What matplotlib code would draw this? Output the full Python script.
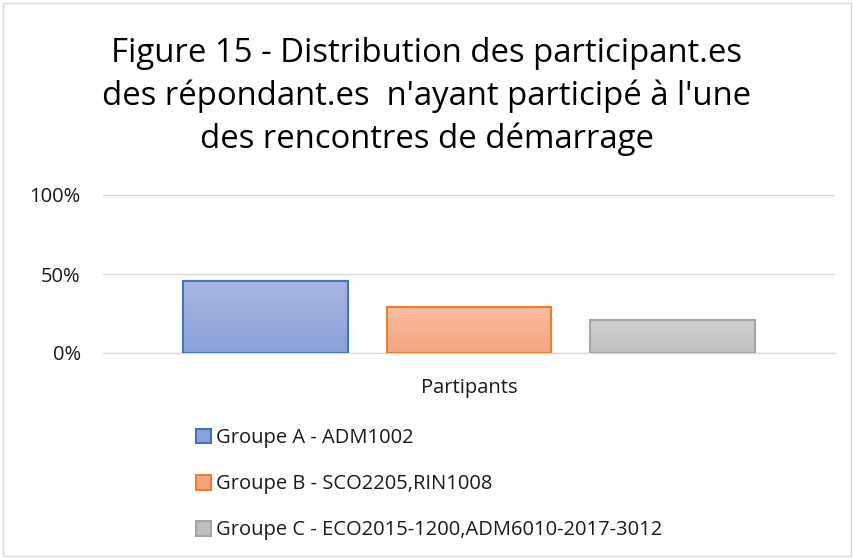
import numpy as np
import matplotlib
matplotlib.use('Agg')
import matplotlib.pyplot as plt
from matplotlib.patches import Rectangle
from matplotlib.colors import LinearSegmentedColormap

plt.rcParams['font.family'] = ['Open Sans', 'DejaVu Sans']

# data
categorie = 'Partipants'
groupes = ['Groupe A - ADM1002',
           'Groupe B - SCO2205,RIN1008',
           'Groupe C - ECO2015-1200,ADM6010-2017-3012']
valeurs = [0.458, 0.292, 0.208]
yticks = [0, 0.5, 1.0]
ytick_labels = ['0%', '50%', '100%']
titre = ("Figure 15 - Distribution des participant.es\n"
         "des répondant.es  n'ayant participé à l'une\n"
         "des rencontres de démarrage")

# couleurs (haut, bas, bord)
couleurs = [('#aab6e0', '#8aa2da', '#4472c4'),
            ('#f7bda2', '#f5a47f', '#ed7d31'),
            ('#d1d1d1', '#bfbfbf', '#a5a5a5')]

txt = '#1a1a1a'

fig = plt.figure(figsize=(8.54, 5.59), dpi=100)
ax = fig.add_axes([103/854, 1-353/559, 732/854, 158/559])

offsets = [-1, 0, 1]
w = 0.81
for off, v, (c_top, c_bot, c_edge), lab in zip(offsets, valeurs, couleurs, groupes):
    bar = ax.bar(off, v, width=w, color=c_bot, edgecolor=c_edge, linewidth=1.5,
                 label=lab, zorder=3)[0]
    cmap = LinearSegmentedColormap.from_list('g', [c_bot, c_top])
    grad = np.linspace(0, 1, 100).reshape(-1, 1)
    im = ax.imshow(grad, cmap=cmap, aspect='auto', origin='lower',
                   extent=[off - w/2, off + w/2, 0, v], zorder=3.5)
    im.set_clip_path(bar)
    # bord par dessus
    ax.add_patch(Rectangle((off - w/2, 0), w, v, fill=False, edgecolor=c_edge,
                           linewidth=1.5, zorder=4))

ax.set_xlim(-1.8, 1.8)
ax.set_ylim(0, 1)
ax.set_yticks(yticks)
ax.set_yticklabels(ytick_labels, fontsize=14.5, color=txt)
ax.set_xticks([0])
ax.set_xticklabels([categorie], fontsize=14.5, color=txt)
ax.tick_params(axis='y', length=0, pad=16)
ax.tick_params(axis='x', length=0, pad=18)
ax.grid(axis='y', color='#d9d9d9', linewidth=1, zorder=0)
for s in ['top', 'right', 'left']:
    ax.spines[s].set_visible(False)
ax.spines['bottom'].set_color('#d9d9d9')
ax.spines['bottom'].set_linewidth(1)

fig.text(0.5, 1 - 37/559, titre, ha='center', va='top', fontsize=23.7,
         color='#000000', linespacing=1.38)

leg = fig.legend(loc='upper left', bbox_to_anchor=(196/854, 1 - 428/559),
                 frameon=False, fontsize=14.5, handlelength=0.75, handleheight=0.75,
                 handletextpad=0.25, labelspacing=1.3, borderaxespad=0,
                 borderpad=0)
for t in leg.get_texts():
    t.set_color(txt)

# bordure du graphique
fig.patches.append(Rectangle((3/854, 3/559), 848/854, 553/559, transform=fig.transFigure,
                             fill=False, edgecolor='#d9d9d9', linewidth=1))

fig.savefig('out.png', dpi=100)
